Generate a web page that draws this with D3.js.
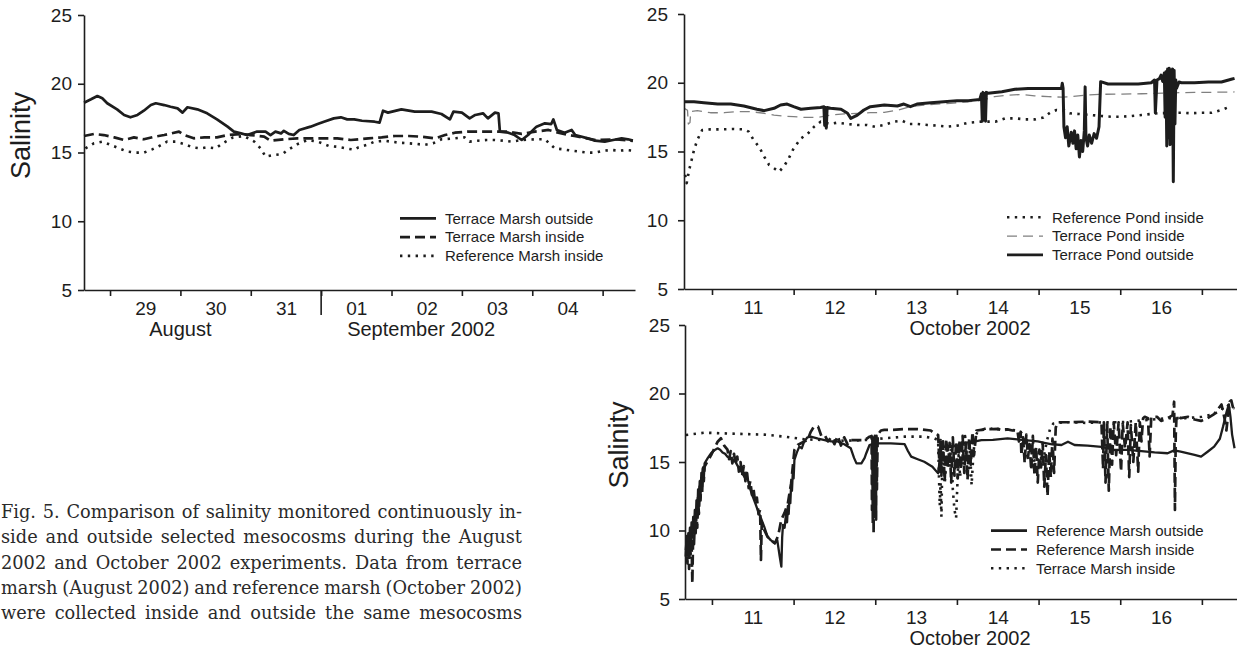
<!DOCTYPE html>
<html>
<head>
<meta charset="utf-8">
<script src="https://cdn.jsdelivr.net/npm/d3@7"></script>
<style>
  html, body { margin: 0; padding: 0; background: #fff; }
  svg { display: block; }
</style>
</head>
<body>
<svg id="fig" width="1237" height="654"></svg>
<script>
// ---------- shared tick values ----------
const salinityTicks = [5, 10, 15, 20, 25];
const augMidnights = [1, 2, 3, 4, 5, 6, 7, 8];          // days after 28 Aug 00:00
const augDayLabels = ["29", "30", "31", "01", "02", "03", "04"];
const octMidnights = [1, 2, 3, 4, 5, 6, 7];             // days after 10 Oct 00:00
const octDayLabels = ["11", "12", "13", "14", "15", "16"];

// ---------- August 2002 (t = days after 28 Aug 00:00, salinity) ----------
const augTerraceOutside = [[0.63,18.62],[0.73,18.87],[0.82,19.11],[0.89,18.94],[0.96,18.58],[1.10,18.14],[1.20,17.73],[1.29,17.56],[1.39,17.73],[1.48,18.04],[1.58,18.45],[1.65,18.58],[1.77,18.45],[1.86,18.33],[1.96,18.21],[2.03,17.90],[2.10,18.29],[2.24,18.14],[2.38,17.85],[2.52,17.41],[2.67,16.88],[2.76,16.52],[2.86,16.39],[2.95,16.27],[3.09,16.52],[3.21,16.52],[3.28,16.27],[3.35,16.52],[3.43,16.39],[3.47,16.58],[3.54,16.35],[3.61,16.27],[3.69,16.64],[3.85,16.88],[3.95,17.07],[4.04,17.24],[4.18,17.48],[4.28,17.56],[4.37,17.41],[4.47,17.41],[4.58,17.31],[4.76,17.24],[4.83,17.17],[4.88,18.04],[4.95,17.90],[5.14,18.14],[5.33,17.97],[5.57,17.97],[5.71,17.80],[5.83,17.41],[5.88,17.97],[6.00,17.90],[6.11,17.48],[6.19,17.73],[6.30,17.85],[6.37,17.48],[6.47,17.90],[6.52,17.85],[6.54,16.52],[6.66,16.44],[6.75,16.27],[6.85,15.91],[6.94,16.27],[7.06,16.88],[7.18,17.12],[7.27,17.07],[7.30,17.41],[7.35,16.64],[7.46,16.44],[7.56,16.64],[7.61,16.27],[7.79,16.03],[7.89,15.86],[8.03,15.79],[8.15,15.91],[8.27,16.03],[8.36,15.96],[8.43,15.86]];
const augTerraceInside = [[0.63,16.2],[0.77,16.35],[0.91,16.27],[1.06,16.1],[1.20,15.91],[1.34,16.1],[1.48,15.96],[1.63,16.15],[1.77,16.27],[1.98,16.52],[2.05,16.27],[2.19,16.03],[2.34,16.1],[2.52,16.1],[2.67,16.27],[2.86,16.35],[3.00,16.27],[3.19,16.15],[3.28,15.86],[3.47,15.96],[3.66,16.03],[3.94,16.03],[4.23,16.03],[4.42,15.91],[4.67,16.03],[4.86,16.1],[5.05,16.2],[5.24,16.2],[5.43,16.15],[5.62,16.03],[5.76,16.27],[5.90,16.44],[6.09,16.52],[6.47,16.52],[6.66,16.52],[6.85,16.35],[7.04,16.52],[7.23,16.64],[7.40,16.4],[7.60,16.2],[7.90,15.9],[8.20,15.95],[8.43,15.85]];
const augReferenceInside = [[0.65,15.30],[0.77,15.67],[0.89,15.79],[1.01,15.55],[1.13,15.30],[1.25,15.06],[1.37,14.99],[1.48,14.99],[1.60,15.23],[1.70,15.47],[1.81,15.79],[1.93,15.79],[2.05,15.62],[2.17,15.38],[2.29,15.30],[2.38,15.38],[2.50,15.30],[2.60,15.67],[2.75,16.10],[2.90,16.20],[3.05,15.79],[3.14,15.30],[3.21,14.70],[3.33,14.82],[3.45,14.89],[3.54,15.23],[3.66,15.60],[3.80,15.90],[3.95,15.80],[4.11,15.47],[4.23,15.42],[4.35,15.30],[4.47,15.20],[4.53,15.38],[4.65,15.55],[4.76,15.79],[4.90,15.85],[5.10,15.72],[5.24,15.67],[5.36,15.62],[5.47,15.55],[5.59,15.67],[5.71,15.96],[5.90,16.03],[6.04,16.10],[6.11,15.79],[6.23,15.86],[6.35,15.91],[6.47,15.91],[6.59,15.86],[6.71,15.79],[6.85,15.91],[7.04,15.96],[7.18,15.96],[7.32,15.30],[7.44,15.23],[7.56,15.13],[7.68,15.06],[7.79,14.99],[7.89,14.99],[8.01,15.13],[8.13,15.18],[8.24,15.13],[8.34,15.18],[8.43,15.13]];

// ---------- October 2002, ponds (t = days after 10 Oct 00:00) ----------
const octRefPondInside = [[0.67,13.3],[0.69,12.7],[0.72,13.65],[0.75,14.38],[0.78,15.11],[0.82,15.84],[0.88,16.56],[0.98,16.61],[1.11,16.61],[1.27,16.64],[1.39,16.61],[1.45,16.44],[1.51,15.84],[1.58,15.30],[1.64,14.62],[1.70,14.02],[1.76,13.78],[1.82,13.53],[1.88,13.90],[1.94,14.50],[2.00,15.23],[2.09,15.96],[2.17,16.27],[2.25,16.80],[2.33,17.17],[2.45,17.00],[2.53,17.09],[2.66,17.00],[2.78,16.93],[2.90,16.93],[3.00,16.80],[3.11,16.93],[3.23,17.17],[3.33,17.24],[3.41,17.00],[3.51,17.00],[3.64,16.93],[3.76,16.88],[3.88,16.80],[4.00,16.88],[4.14,17.09],[4.30,17.17],[4.47,17.17],[4.59,17.41],[4.71,17.41],[4.83,17.34],[4.96,17.34],[5.06,17.48],[5.14,17.82],[5.22,18.02],[5.32,17.97],[5.38,17.78],[5.49,17.73],[5.65,17.65],[5.77,17.58],[5.89,17.53],[6.02,17.53],[6.14,17.58],[6.26,17.65],[6.38,17.73],[6.46,17.78],[6.75,17.82],[6.87,17.78],[6.99,17.82],[7.12,17.82],[7.24,18.02],[7.32,18.21]];
const octTerPondInside = [[0.66,18.14],[0.70,18.0],[0.71,17.0],[0.73,17.1],[0.74,17.9],[0.82,17.97],[0.98,17.82],[1.15,17.82],[1.31,17.90],[1.47,17.90],[1.64,17.78],[1.76,17.65],[1.88,17.58],[2.00,17.53],[2.13,17.48],[2.29,17.48],[2.45,17.65],[2.62,17.73],[2.78,17.78],[2.94,17.82],[3.11,17.85],[3.27,18.0],[3.43,18.26],[3.60,18.38],[3.76,18.45],[3.92,18.5],[4.08,18.6],[4.28,18.7],[4.38,18.85],[4.46,18.99],[4.63,19.1],[4.79,19.15],[4.95,19.05],[5.12,18.99],[5.28,18.95],[5.36,18.97],[5.61,19.11],[5.77,19.16],[6.02,19.18],[6.26,19.2],[6.42,19.23],[6.59,19.25],[6.75,19.28],[6.91,19.3],[7.08,19.3],[7.24,19.32],[7.40,19.33]];
const octTerPondOutside = [[0.66,18.62],[0.78,18.62],[0.90,18.55],[1.07,18.45],[1.23,18.45],[1.39,18.31],[1.55,18.07],[1.64,17.97],[1.76,18.14],[1.84,18.38],[1.92,18.45],[2.00,18.26],[2.09,18.07],[2.21,18.14],[2.33,18.20],[2.37,18.26],[2.38,16.9],[2.39,18.2],[2.40,16.7],[2.41,18.2],[2.45,18.14],[2.58,18.07],[2.66,17.78],[2.70,17.41],[2.78,17.65],[2.86,18.02],[2.94,18.26],[3.11,18.38],[3.27,18.31],[3.35,18.45],[3.43,18.26],[3.51,18.45],[3.68,18.55],[3.84,18.62],[4.00,18.70],[4.14,18.70],[4.28,18.79],[4.30,19.2],[4.31,17.2],[4.32,19.3],[4.33,17.3],[4.34,19.2],[4.35,17.2],[4.36,19.3],[4.38,19.23],[4.55,19.35],[4.71,19.52],[4.87,19.59],[5.04,19.59],[5.20,19.59],[5.28,19.59],[5.29,19.96],[5.30,19.6],[5.31,16.8],[5.33,16.0],[5.35,16.8],[5.37,15.4],[5.40,16.4],[5.42,15.6],[5.44,16.5],[5.46,15.2],[5.48,16.2],[5.50,14.6],[5.52,15.8],[5.54,15.0],[5.56,16.5],[5.57,19.7],[5.58,16.0],[5.60,15.4],[5.62,16.2],[5.65,15.6],[5.68,16.3],[5.71,15.96],[5.74,16.8],[5.76,20.08],[5.85,19.91],[6.02,19.91],[6.22,19.91],[6.38,20.0],[6.42,20.2],[6.43,17.8],[6.45,20.2],[6.48,20.3],[6.50,20.56],[6.52,20.1],[6.54,20.7],[6.55,17.5],[6.56,20.8],[6.57,15.4],[6.58,21.0],[6.59,16.0],[6.60,21.05],[6.61,15.5],[6.62,20.9],[6.63,16.2],[6.64,21.0],[6.65,12.8],[6.66,20.9],[6.67,17.0],[6.68,20.2],[6.69,19.6],[6.72,20.05],[6.75,20.0],[6.91,20.0],[7.08,20.05],[7.24,20.05],[7.36,20.25],[7.40,20.32]];

// ---------- October 2002, marshes ----------
const octRefMarshOutside = [[0.68,8.58],[0.69,9.6],[0.70,8.2],[0.71,9.8],[0.72,8.9],[0.73,10.2],[0.74,9.0],[0.75,10.6],[0.76,9.5],[0.77,11.0],[0.78,10.0],[0.79,11.5],[0.80,10.4],[0.81,12.2],[0.82,11.0],[0.83,13.0],[0.84,11.8],[0.85,13.6],[0.86,12.4],[0.87,14.2],[0.88,13.2],[0.89,14.6],[0.90,13.8],[0.91,14.9],[0.95,15.3],[0.99,15.64],[1.04,15.9],[1.07,16.0],[1.10,15.9],[1.13,15.7],[1.16,15.6],[1.19,15.39],[1.24,15.2],[1.28,15.1],[1.32,14.66],[1.36,14.3],[1.40,13.9],[1.44,13.7],[1.47,13.0],[1.50,12.47],[1.53,12.0],[1.56,11.5],[1.60,10.9],[1.64,10.28],[1.68,9.55],[1.72,9.3],[1.77,9.07],[1.80,9.3],[1.83,8.09],[1.85,7.36],[1.86,9.5],[1.87,10.4],[1.89,10.2],[1.91,11.4],[1.92,10.6],[1.93,11.8],[1.94,11.2],[1.95,12.6],[1.96,12.0],[1.97,13.4],[1.98,12.9],[1.99,14.2],[2.00,13.8],[2.01,15.15],[2.04,15.7],[2.07,16.12],[2.10,16.0],[2.13,16.5],[2.17,16.8],[2.21,16.85],[2.30,16.7],[2.38,16.6],[2.46,16.5],[2.54,16.5],[2.62,16.3],[2.70,16.0],[2.74,15.3],[2.77,14.9],[2.83,14.9],[2.87,15.3],[2.89,15.64],[2.93,16.24],[2.99,16.36],[3.11,16.36],[3.19,16.36],[3.36,16.3],[3.40,15.8],[3.44,15.39],[3.52,15.2],[3.60,15.02],[3.70,14.66],[3.77,14.17],[3.79,15.2],[3.81,16.12],[3.93,16.1],[4.03,16.24],[4.05,16.36],[4.21,16.48],[4.30,16.6],[4.44,16.62],[4.62,16.73],[4.74,16.65],[4.83,16.6],[4.99,16.5],[5.07,16.4],[5.15,16.3],[5.28,16.24],[5.36,16.48],[5.44,16.24],[5.60,16.2],[5.77,16.1],[5.93,15.88],[6.09,15.88],[6.26,15.8],[6.42,15.7],[6.58,15.64],[6.66,15.85],[6.74,15.75],[6.91,15.52],[6.99,15.39],[7.07,15.75],[7.15,16.12],[7.22,16.7],[7.26,17.6],[7.30,18.6],[7.33,19.2],[7.35,18.3],[7.37,17.0],[7.40,16.0]];
const octRefMarshInside = [[0.68,8.09],[0.69,9.2],[0.70,7.6],[0.71,9.5],[0.72,7.2],[0.73,9.0],[0.74,8.2],[0.75,9.4],[0.76,6.15],[0.77,9.9],[0.78,9.0],[0.79,10.6],[0.80,9.8],[0.81,11.2],[0.82,10.2],[0.83,12.4],[0.84,11.2],[0.85,13.2],[0.86,12.2],[0.87,14.0],[0.88,12.8],[0.89,14.5],[0.90,13.6],[0.91,14.66],[0.95,15.1],[0.99,15.5],[1.03,16.0],[1.07,16.48],[1.11,16.73],[1.15,16.2],[1.19,15.9],[1.21,15.2],[1.23,15.8],[1.25,14.9],[1.27,15.6],[1.29,14.8],[1.31,15.4],[1.33,14.3],[1.35,15.0],[1.37,14.0],[1.39,14.7],[1.41,13.6],[1.43,14.2],[1.45,13.1],[1.47,13.6],[1.49,12.6],[1.51,13.0],[1.53,12.0],[1.55,12.4],[1.57,11.2],[1.59,11.5],[1.60,7.85],[1.61,10.6],[1.64,10.04],[1.68,9.55],[1.72,9.3],[1.77,9.07],[1.81,9.6],[1.85,10.8],[1.89,11.3],[1.93,12.0],[1.97,13.45],[2.01,15.88],[2.05,16.24],[2.13,16.5],[2.17,16.6],[2.21,17.2],[2.25,17.6],[2.30,17.58],[2.34,16.9],[2.38,16.97],[2.42,16.5],[2.46,16.8],[2.50,16.3],[2.54,16.9],[2.58,16.2],[2.62,16.8],[2.66,16.3],[2.70,16.6],[2.80,16.6],[2.87,16.6],[2.93,16.85],[2.955,16.9],[2.96,11.5],[2.965,16.8],[2.97,10.5],[2.975,16.6],[2.98,9.8],[2.985,16.7],[2.99,11.0],[2.995,16.9],[3.00,12.5],[3.005,16.8],[3.01,10.8],[3.015,16.9],[3.02,13.0],[3.03,17.0],[3.07,17.3],[3.11,17.34],[3.19,17.34],[3.36,17.4],[3.52,17.4],[3.68,17.3],[3.72,17.1],[3.77,16.97],[3.79,14.3],[3.80,16.6],[3.81,14.0],[3.83,16.5],[3.85,13.6],[3.87,16.7],[3.89,14.6],[3.91,16.4],[3.93,13.5],[3.95,16.8],[3.97,14.0],[3.99,16.5],[4.01,13.8],[4.03,16.6],[4.05,14.5],[4.07,16.9],[4.09,14.2],[4.11,16.4],[4.13,13.7],[4.15,16.8],[4.17,14.8],[4.19,17.2],[4.21,15.5],[4.24,17.3],[4.30,17.34],[4.38,17.5],[4.44,17.4],[4.50,17.42],[4.56,17.3],[4.62,17.38],[4.68,17.3],[4.74,17.34],[4.76,16.5],[4.78,17.2],[4.79,15.5],[4.81,16.8],[4.83,14.9],[4.85,17.0],[4.87,15.3],[4.89,16.3],[4.91,14.4],[4.93,16.9],[4.95,14.0],[4.97,16.1],[4.99,13.5],[5.01,15.9],[5.03,14.6],[5.05,16.4],[5.07,13.2],[5.09,15.5],[5.11,12.5],[5.13,15.8],[5.15,13.9],[5.17,16.7],[5.19,14.2],[5.21,17.5],[5.23,17.9],[5.40,17.9],[5.60,17.95],[5.77,17.9],[5.79,14.5],[5.80,17.9],[5.82,13.5],[5.84,17.8],[5.86,12.9],[5.88,17.6],[5.90,14.8],[5.92,17.9],[5.95,15.5],[5.98,17.9],[6.01,14.3],[6.03,17.8],[6.06,16.0],[6.09,17.9],[6.11,13.9],[6.13,17.7],[6.16,15.0],[6.19,17.9],[6.22,14.3],[6.24,17.9],[6.26,16.5],[6.28,18.2],[6.30,18.3],[6.34,18.2],[6.36,15.4],[6.38,18.3],[6.45,18.3],[6.50,18.0],[6.58,18.2],[6.64,18.4],[6.66,19.4],[6.67,11.5],[6.68,17.0],[6.69,18.4],[6.74,18.2],[6.83,18.3],[6.91,18.1],[6.99,18.0],[7.07,18.2],[7.15,18.5],[7.19,18.8],[7.24,19.2],[7.28,18.1],[7.30,17.3],[7.32,18.4],[7.34,19.4],[7.36,19.5],[7.38,19.0],[7.40,19.1]];
const octTerMarshInside = [[0.68,16.97],[0.91,17.14],[1.15,17.09],[1.40,17.04],[1.64,17.0],[1.89,16.85],[2.13,16.66],[2.38,16.6],[2.62,16.55],[2.87,16.6],[3.11,16.73],[3.36,16.85],[3.60,16.85],[3.72,16.73],[3.77,16.6],[3.78,14.0],[3.79,11.8],[3.80,13.5],[3.81,11.0],[3.82,14.5],[3.83,16.0],[3.85,13.4],[3.87,15.0],[3.89,16.2],[3.91,14.6],[3.93,16.3],[3.95,13.0],[3.97,11.5],[3.99,10.9],[4.00,12.5],[4.02,15.5],[4.04,13.9],[4.06,16.2],[4.08,14.8],[4.10,16.9],[4.12,15.5],[4.14,14.0],[4.16,16.0],[4.18,13.3],[4.20,15.4],[4.22,16.8],[4.26,17.3],[4.38,17.4],[4.50,17.4],[4.62,17.38],[4.74,17.3],[4.78,17.2],[4.85,16.6],[4.90,15.9],[4.94,15.2],[4.98,14.6],[5.01,15.8],[5.05,14.9],[5.10,16.5],[5.14,17.4],[5.18,17.8],[5.30,17.9],[5.40,17.9],[5.60,17.85],[5.80,17.9],[6.00,17.9],[6.20,18.0],[6.40,18.1],[6.60,18.2],[6.80,18.2],[7.00,18.3],[7.15,18.5],[7.24,18.8],[7.30,19.2],[7.36,19.0],[7.40,18.9]];

// ---------- caption ----------
const captionLines = [
  "Fig. 5. Comparison of salinity monitored continuously in-",
  "side and outside selected mesocosms during the August",
  "2002 and October 2002 experiments. Data from terrace",
  "marsh (August 2002) and reference marsh (October 2002)",
  "were collected inside and outside the same mesocosms"
];

// ---------- drawing ----------
const INK = "#1d1d1d";
const SANS = "'Liberation Sans', Arial, Helvetica, sans-serif";
const STYLES = {
  solid:    { color: INK,    width: 2.7, dash: null,      cap: "butt" },
  dashed:   { color: INK,    width: 2.7, dash: "10,5",    cap: "butt" },
  dotted:   { color: INK,    width: 2.6, dash: "2.4,5.4", cap: "butt" },
  grayDash: { color: "#808080", width: 1.3, dash: "10,6", cap: "butt" }
};

const svg = d3.select("#fig");

function styleAxis(sel, fontSize) {
  sel.select(".domain").attr("stroke", INK).attr("stroke-width", 1.6);
  sel.selectAll(".tick line").attr("stroke", INK).attr("stroke-width", 1.6);
  sel.selectAll(".tick text").attr("fill", INK).style("font-family", SANS).style("font-size", fontSize + "px");
}

function drawPanel(p) {
  const g = svg.append("g");
  const x = d3.scaleLinear().domain(p.xDomain).range([p.left, p.right]);
  const y = d3.scaleLinear().domain([5, 25]).range([p.bottom, p.top]);
  const line = d3.line().x(d => x(d[0])).y(d => y(d[1]));

  p.series.forEach(s => {
    const st = STYLES[s.style];
    g.append("path")
      .attr("d", line(s.data))
      .attr("fill", "none")
      .attr("stroke", st.color)
      .attr("stroke-width", s.width || st.width)
      .attr("stroke-dasharray", st.dash)
      .attr("stroke-linecap", st.cap)
      .attr("stroke-linejoin", "round");
  });

  // salinity axis
  const ya = g.append("g")
    .attr("transform", `translate(${p.left},0)`)
    .call(d3.axisLeft(y).tickValues(salinityTicks).tickSize(6).tickSizeOuter(0).tickPadding(p.yPad));
  styleAxis(ya, 19);

  // midnight ticks
  const xa = g.append("g")
    .attr("transform", `translate(0,${p.bottom})`)
    .call(d3.axisBottom(x).tickValues(p.midnights).tickSize(6).tickSizeOuter(0).tickFormat(""));
  styleAxis(xa, 19);

  // day numbers centred on noon
  const noon = p.dayLabels.map((_, i) => p.midnights[0] + i + 0.5);
  const xl = g.append("g")
    .attr("transform", `translate(0,${p.bottom})`)
    .call(d3.axisBottom(x).tickValues(noon).tickSize(0).tickPadding(12)
      .tickFormat((d, i) => p.dayLabels[i]));
  xl.select(".domain").remove();
  styleAxis(xl, 19);

  // month separator
  if (p.separator != null) {
    g.append("line")
      .attr("x1", x(p.separator)).attr("x2", x(p.separator))
      .attr("y1", p.bottom).attr("y2", p.bottom + 25)
      .attr("stroke", INK).attr("stroke-width", 1.6);
  }

  // month titles
  p.months.forEach(m => {
    g.append("text")
      .attr("x", x(m.t)).attr("y", p.bottom + 46)
      .attr("text-anchor", "middle")
      .attr("fill", INK)
      .style("font-family", SANS).style("font-size", "20px")
      .text(m.text);
  });

  // y title
  if (p.yTitle) {
    g.append("text")
      .attr("transform", `translate(${p.yTitleX},${(p.top + p.bottom) / 2 - 17}) rotate(-90)`)
      .attr("text-anchor", "middle")
      .attr("fill", INK)
      .style("font-family", SANS).style("font-size", "27px")
      .text(p.yTitle);
  }

  // legend
  const lg = g.append("g").attr("transform", `translate(${p.legend.x},${p.legend.y})`);
  p.series.forEach((s, i) => {
    const st = STYLES[s.style];
    const row = lg.append("g").attr("transform", `translate(0,${i * 18.8})`);
    row.append("line")
      .attr("x1", 0).attr("x2", 36).attr("y1", 0).attr("y2", 0)
      .attr("stroke", st.color).attr("stroke-width", st.width)
      .attr("stroke-dasharray", st.dash);
    row.append("text")
      .attr("x", 45).attr("y", 5.3)
      .attr("fill", INK)
      .style("font-family", SANS).style("font-size", "15px")
      .text(s.name);
  });
}

drawPanel({
  xDomain: [0.63, 8.46], left: 84, right: 635, top: 15, bottom: 290, yPad: 6,
  midnights: augMidnights, dayLabels: augDayLabels, separator: 4,
  months: [{ t: 2.0, text: "August" }, { t: 5.42, text: "September 2002" }],
  yTitle: "Salinity", yTitleX: 30,
  legend: { x: 400, y: 218.3 },
  series: [
    { name: "Terrace Marsh outside", style: "solid", data: augTerraceOutside },
    { name: "Terrace Marsh inside", style: "dashed", data: augTerraceInside },
    { name: "Reference Marsh inside", style: "dotted", data: augReferenceInside }
  ]
});

drawPanel({
  xDomain: [0.657, 7.43], left: 684, right: 1237, top: 14, bottom: 289, yPad: 10,
  midnights: octMidnights, dayLabels: octDayLabels, separator: null,
  months: [{ t: 4.16, text: "October 2002" }],
  yTitle: null,
  legend: { x: 1007, y: 217.3 },
  series: [
    { name: "Reference Pond inside", style: "dotted", data: octRefPondInside },
    { name: "Terrace Pond inside", style: "grayDash", data: octTerPondInside },
    { name: "Terrace Pond outside", style: "solid", data: octTerPondOutside, width: 3 }
  ]
});

drawPanel({
  xDomain: [0.67, 7.43], left: 685, right: 1237, top: 325, bottom: 599, yPad: 9,
  midnights: octMidnights, dayLabels: octDayLabels, separator: null,
  months: [{ t: 4.16, text: "October 2002" }],
  yTitle: "Salinity", yTitleX: 628,
  legend: { x: 991, y: 530.7 },
  series: [
    { name: "Reference Marsh outside", style: "solid", data: octRefMarshOutside, width: 2.3 },
    { name: "Reference Marsh inside", style: "dashed", data: octRefMarshInside },
    { name: "Terrace Marsh inside", style: "dotted", data: octTerMarshInside }
  ]
});

// caption, justified between two margins
(function drawCaption() {
  const left = 1, right = 522, firstBaseline = 518, leading = 25.3;
  const width = right - left;
  const cap = svg.append("g")
    .attr("fill", "#2a2a2a")
    .style("font-family", "'DejaVu Serif', 'Liberation Serif', serif");
  let size = 18;
  const measure = (words, fs) => {
    const t = cap.append("text").style("font-size", fs + "px");
    const w = words.map(wd => { t.text(wd); return t.node().getComputedTextLength(); });
    t.remove();
    return w;
  };
  // shrink until every line fits with a minimum word gap
  while (size > 10) {
    const ok = captionLines.every(l => {
      const words = l.split(" ");
      const w = d3.sum(measure(words, size));
      return w + (words.length - 1) * 4.5 <= width;
    });
    if (ok) break;
    size -= 0.25;
  }
  captionLines.forEach((l, li) => {
    const words = l.split(" ");
    const w = measure(words, size);
    const gap = (width - d3.sum(w)) / (words.length - 1);
    let xPos = left;
    words.forEach((wd, i) => {
      cap.append("text")
        .attr("x", xPos).attr("y", firstBaseline + li * leading)
        .style("font-size", size + "px")
        .text(wd);
      xPos += w[i] + gap;
    });
  });
})();
</script>
</body>
</html>
